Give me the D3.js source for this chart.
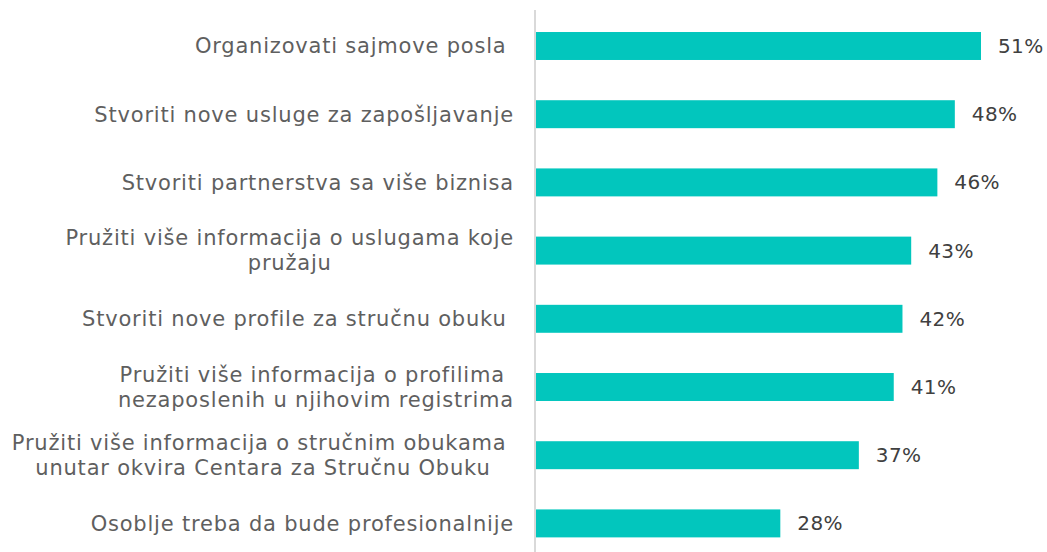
<!DOCTYPE html>
<html>
<head>
<meta charset="utf-8">
<script src="https://cdn.jsdelivr.net/npm/d3@7"></script>
<style>
  html, body { margin: 0; padding: 0; background: #ffffff; }
  svg { display: block; }
  text { white-space: pre; }
</style>
</head>
<body>
<svg id="chart" width="1047" height="552"></svg>
<script>
// Survey answers, one entry per bar (top to bottom); multi-line labels split into lines
const categories = [
  ["Organizovati sajmove posla "],
  ["Stvoriti nove usluge za zapošljavanje"],
  ["Stvoriti partnerstva sa više biznisa"],
  ["Pružiti više informacija o uslugama koje", "pružaju"],
  ["Stvoriti nove profile za stručnu obuku "],
  ["Pružiti više informacija o profilima ", "nezaposlenih u njihovim registrima"],
  ["Pružiti više informacija o stručnim obukama ", "unutar okvira Centara za Stručnu Obuku"],
  ["Osoblje treba da bude profesionalnije"]
];
const values = [51, 48, 46, 43, 42, 41, 37, 28];
const valueLabels = ["51%", "48%", "46%", "43%", "42%", "41%", "37%", "28%"];

const svg = d3.select("#chart");
const axisX = 536;
const labelRight = 514;
const fontFamily = "'DejaVu Sans', sans-serif";
const fontSize = 21;
const letterSpacing = 0.8;

const keys = categories.map((c, i) => i);

const x = d3.scaleLinear().domain([0, 51]).range([axisX, axisX + 445]);
const y = d3.scaleBand().domain(keys).range([11.9, 557.5])
  .paddingInner(0.59).paddingOuter(0.295);

// vertical category axis line
svg.append("line")
  .attr("x1", axisX - 1).attr("x2", axisX - 1)
  .attr("y1", 10).attr("y2", 552)
  .attr("stroke", "#d9d9d9").attr("stroke-width", 2);

// bars
svg.append("g").selectAll("rect")
  .data(values)
  .join("rect")
  .attr("x", x(0))
  .attr("y", (d, i) => y(i))
  .attr("width", d => x(d) - x(0))
  .attr("height", y.bandwidth())
  .attr("fill", "#02c6bd");

// value labels
svg.append("g").selectAll("text")
  .data(values)
  .join("text")
  .attr("x", d => x(d) + 17)
  .attr("y", (d, i) => y(i) + y.bandwidth() / 2)
  .attr("dy", "0.35em")
  .attr("font-family", fontFamily)
  .attr("font-size", 20)
  .attr("letter-spacing", 0.4)
  .attr("fill", "#404040")
  .text((d, i) => valueLabels[i]);

// category labels: each block centred on itself, block right-aligned to the axis
const lineH = 25;
const labelG = svg.append("g")
  .attr("font-family", fontFamily)
  .attr("font-size", fontSize)
  .attr("letter-spacing", letterSpacing)
  .attr("fill", "#5f5f5f");

categories.forEach((lines, i) => {
  const cy = y(i) + y.bandwidth() / 2;
  const g = labelG.append("g");
  const texts = lines.map((ln, j) => g.append("text")
    .attr("y", cy + (j - (lines.length - 1) / 2) * lineH)
    .attr("dy", "0.35em")
    .attr("text-anchor", "middle")
    .text(ln));
  const w = d3.max(texts, t => t.node().getComputedTextLength());
  texts.forEach(t => t.attr("x", labelRight - w / 2));
});
</script>
</body>
</html>
